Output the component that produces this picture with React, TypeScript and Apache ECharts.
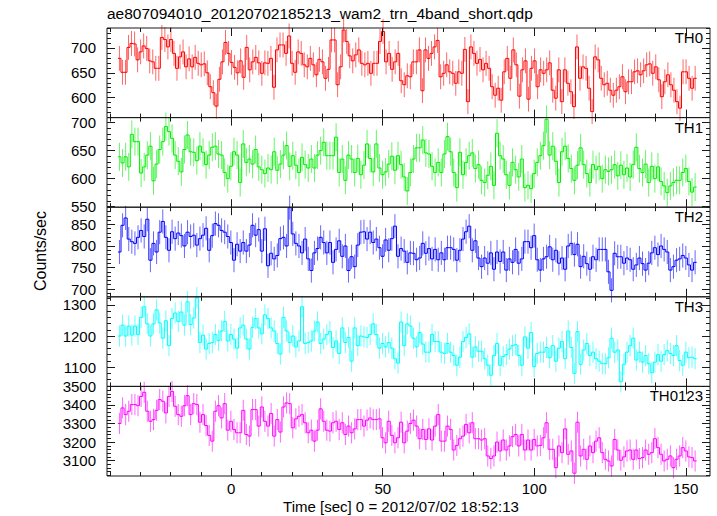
import React, { useEffect, useRef } from "react";
import * as echarts from "echarts";

const TITLE = "ae807094010_20120702185213_wam2_trn_4band_short.qdp";
const X_TITLE = "Time [sec] 0 = 2012/07/02 18:52:13";
const Y_TITLE = "Counts/sec";
const FONT = "Liberation Sans, Arial, Helvetica, sans-serif";

const X_MIN = -41;
const X_MAX = 158;
const X_MAJOR = [0, 50, 100, 150];
const X_MINOR = [-40, -30, -20, -10, 0, 10, 20, 30, 40, 50, 60, 70, 80, 90, 100, 110, 120, 130, 140, 150];
const T_START = -37.4;
const T_END = 153.6;

const PANEL_NAMES = ["TH0", "TH1", "TH2", "TH3", "TH0123"];
const PANEL_COLORS = ["#ff0000", "#00ee00", "#0000ff", "#00ffff", "#ff00ff"];
const Y_RANGES = [[560, 740], [549, 709], [682, 890], [1038, 1326], [3017, 3500]];
const Y_MAJOR = [[600, 650, 700], [550, 600, 650, 700], [700, 750, 800, 850], [1100, 1200, 1300], [3100, 3200, 3300, 3400, 3500]];
const Y_MINOR_STEP = [10, 10, 10, 20, 20];
const ERRORS = [25, 25, 28, 34, 57];

const TH0 = [
  679, 651, 651, 701, 709, 708, 676, 692, 704, 699, 674, 672, 659, 659, 721, 717, 702, 717, 689, 659,
  682, 692, 662, 678, 662, 681, 669, 666, 668, 650, 622, 610, 583, 637, 672, 711, 689, 671, 661, 650,
  674, 641, 701, 656, 672, 681, 670, 649, 670, 669, 679, 621, 696, 706, 706, 689, 724, 669, 651, 692,
  689, 666, 662, 679, 666, 646, 677, 672, 639, 657, 716, 716, 626, 662, 736, 713, 684, 674, 686, 696,
  669, 666, 669, 649, 669, 669, 713, 733, 672, 689, 657, 672, 689, 634, 626, 644, 642, 672, 672, 696,
  614, 696, 679, 689, 702, 715, 642, 649, 666, 652, 649, 629, 652, 649, 697, 592, 702, 689, 669, 677,
  656, 669, 659, 622, 605, 619, 595, 652, 679, 639, 696, 666, 603, 656, 674, 597, 659, 674, 622, 656,
  649, 656, 670, 615, 599, 656, 592, 656, 629, 612, 582, 702, 639, 662, 659, 619, 572, 682, 676, 639,
  626, 629, 615, 605, 615, 622, 642, 612, 632, 632, 652, 654, 646, 654, 666, 668, 649, 662, 636, 602,
  632, 646, 626, 615, 592, 579, 652, 652, 639, 619, 639,
];

const TH1 = [
  639, 628, 639, 621, 679, 666, 666, 610, 621, 642, 658, 596, 626, 652, 666, 693, 684, 672, 642, 631,
  612, 652, 678, 648, 647, 632, 658, 647, 625, 642, 656, 658, 644, 642, 611, 600, 622, 648, 642, 593,
  662, 629, 635, 626, 652, 621, 616, 609, 619, 616, 648, 615, 626, 642, 659, 622, 641, 624, 611, 638,
  625, 619, 635, 619, 642, 650, 665, 641, 641, 641, 674, 611, 635, 597, 642, 635, 611, 636, 607, 624,
  662, 636, 612, 662, 619, 607, 612, 626, 640, 615, 641, 625, 603, 578, 611, 635, 655, 655, 669, 646,
  644, 622, 611, 629, 611, 644, 675, 648, 611, 584, 647, 607, 629, 641, 646, 618, 625, 597, 593, 606,
  622, 588, 681, 641, 635, 607, 588, 629, 616, 603, 635, 584, 588, 582, 609, 629, 641, 659, 706, 642,
  658, 631, 593, 648, 658, 636, 618, 597, 624, 655, 625, 609, 593, 625, 616, 622, 600, 616, 613, 616,
  625, 605, 624, 607, 619, 603, 625, 656, 618, 611, 626, 593, 622, 600, 621, 595, 587, 575, 587, 593,
  597, 597, 611, 618, 595, 576, 585,
];

const TH2 = [
  786, 848, 865, 816, 810, 806, 820, 836, 822, 862, 767, 806, 786, 832, 857, 820, 790, 833, 817, 830,
  824, 800, 832, 822, 825, 802, 817, 825, 841, 790, 824, 852, 848, 836, 832, 822, 808, 767, 804, 788,
  808, 788, 802, 848, 825, 838, 788, 840, 754, 783, 770, 778, 817, 820, 800, 889, 828, 806, 800, 784,
  816, 770, 743, 784, 794, 820, 808, 784, 808, 762, 792, 812, 776, 800, 743, 775, 752, 802, 832, 833,
  816, 832, 808, 816, 796, 776, 814, 790, 817, 846, 776, 794, 788, 762, 784, 783, 768, 772, 806, 783,
  794, 770, 792, 768, 784, 768, 796, 796, 792, 767, 790, 816, 833, 846, 790, 812, 772, 752, 772, 760,
  784, 746, 786, 764, 786, 744, 770, 762, 792, 760, 770, 810, 810, 796, 824, 768, 744, 770, 775, 798,
  768, 790, 760, 772, 746, 800, 806, 780, 804, 752, 776, 759, 746, 775, 768, 792, 792, 792, 740, 697,
  783, 775, 775, 760, 772, 768, 746, 756, 772, 759, 744, 760, 784, 796, 780, 800, 792, 786, 744, 752,
  767, 770, 778, 772, 756, 744, 762,
];

const TH3 = [
  1200, 1235, 1200, 1232, 1203, 1232, 1205, 1260, 1294, 1239, 1200, 1239, 1284, 1242, 1193, 1249, 1169, 1256, 1274, 1247,
  1277, 1235, 1310, 1237, 1258, 1323, 1179, 1203, 1158, 1176, 1179, 1205, 1186, 1216, 1247, 1184, 1205, 1190, 1161, 1226,
  1235, 1190, 1158, 1228, 1256, 1226, 1207, 1268, 1256, 1226, 1216, 1176, 1142, 1260, 1216, 1179, 1200, 1165, 1184, 1294,
  1176, 1179, 1184, 1216, 1245, 1176, 1190, 1205, 1214, 1163, 1184, 1144, 1226, 1179, 1195, 1119, 1226, 1169, 1200, 1197,
  1195, 1205, 1239, 1205, 1161, 1176, 1165, 1179, 1161, 1127, 1113, 1245, 1169, 1239, 1232, 1193, 1165, 1211, 1174, 1148,
  1148, 1205, 1182, 1182, 1148, 1144, 1176, 1148, 1137, 1106, 1132, 1182, 1195, 1207, 1132, 1165, 1151, 1151, 1127, 1106,
  1074, 1137, 1176, 1106, 1134, 1140, 1158, 1169, 1172, 1137, 1106, 1197, 1161, 1211, 1102, 1144, 1148, 1148, 1163, 1130,
  1169, 1119, 1161, 1182, 1127, 1216, 1163, 1080, 1214, 1109, 1155, 1176, 1137, 1148, 1127, 1119, 1111, 1111, 1130, 1193,
  1148, 1155, 1053, 1109, 1148, 1169, 1193, 1123, 1148, 1116, 1137, 1111, 1082, 1116, 1140, 1119, 1140, 1153, 1144, 1137,
  1169, 1121, 1106, 1148, 1130, 1132, 1127,
];

const TH0123 = [
  3300, 3384, 3348, 3366, 3402, 3402, 3396, 3446, 3468, 3366, 3312, 3321, 3371, 3429, 3420, 3357, 3446, 3473, 3393, 3348,
  3339, 3396, 3450, 3348, 3407, 3402, 3307, 3348, 3289, 3236, 3205, 3366, 3396, 3330, 3407, 3264, 3312, 3268, 3250, 3250,
  3371, 3241, 3232, 3375, 3375, 3286, 3389, 3312, 3286, 3354, 3232, 3321, 3254, 3389, 3411, 3407, 3277, 3325, 3339, 3348,
  3304, 3250, 3264, 3205, 3264, 3379, 3312, 3264, 3259, 3304, 3312, 3268, 3304, 3241, 3286, 3250, 3271, 3321, 3321, 3286,
  3318, 3330, 3321, 3321, 3325, 3223, 3196, 3312, 3236, 3196, 3223, 3307, 3196, 3259, 3300, 3318, 3286, 3218, 3268, 3214,
  3271, 3211, 3286, 3348, 3205, 3205, 3286, 3268, 3157, 3182, 3218, 3232, 3295, 3250, 3304, 3218, 3218, 3211, 3218, 3125,
  3111, 3125, 3200, 3152, 3211, 3157, 3179, 3229, 3241, 3179, 3241, 3157, 3211, 3157, 3214, 3179, 3182, 3223, 3304, 3161,
  3161, 3062, 3179, 3143, 3271, 3134, 3152, 3032, 3307, 3125, 3161, 3107, 3179, 3143, 3205, 3223, 3143, 3107, 3098, 3071,
  3214, 3157, 3102, 3120, 3152, 3157, 3107, 3157, 3111, 3116, 3157, 3134, 3143, 3218, 3170, 3134, 3098, 3107, 3125, 3062,
  3107, 3125, 3170, 3152, 3120, 3116, 3098,
];

const PANEL_DATA = [TH0, TH1, TH2, TH3, TH0123];

const W = 717;
const H = 516;
const GRID_LEFT = 107;
const GRID_RIGHT_X = 710;
const PLOT_TOP = 28;
const PLOT_BOTTOM = 476;
const PANEL_H = (PLOT_BOTTOM - PLOT_TOP) / 5;
const FRAME = "#1a1a1a";
const FS = 15;

function range(a: number, b: number, step: number) {
  const out: number[] = [];
  for (let v = a; v <= b + 1e-9; v += step) out.push(Math.round(v * 1000) / 1000);
  return out;
}

const plain = (v: number) => String(v);

function buildOption() {
  const grids: any[] = [];
  const xAxes: any[] = [];
  const yAxes: any[] = [];
  const series: any[] = [];
  const graphics: any[] = [];

  PANEL_NAMES.forEach((name, i) => {
    const top = PLOT_TOP + i * PANEL_H;
    grids.push({
      left: GRID_LEFT,
      width: GRID_RIGHT_X - GRID_LEFT,
      top,
      height: PANEL_H,
      show: true,
      borderColor: FRAME,
      borderWidth: 1,
      backgroundColor: "transparent",
      z: 10,
    });
    const tickStyle = { color: FRAME, width: 1 };
    const xBase = {
      gridIndex: i,
      type: "value",
      min: X_MIN,
      max: X_MAX,
      axisLine: { show: false, onZero: false },
      splitLine: { show: false },
      z: 11,
    };
    const isLast = i === PANEL_NAMES.length - 1;
    xAxes.push({
      ...xBase,
      position: "bottom",
      axisTick: { show: true, inside: true, length: 8, customValues: X_MAJOR, lineStyle: tickStyle },
      axisLabel: {
        show: isLast,
        customValues: X_MAJOR,
        formatter: plain,
        margin: 5,
        color: "#000",
        fontSize: FS,
        fontFamily: FONT,
      },
    });
    xAxes.push({
      ...xBase,
      position: "bottom",
      axisTick: { show: true, inside: true, length: 4, customValues: X_MINOR, lineStyle: tickStyle },
      axisLabel: { show: false },
    });
    xAxes.push({
      ...xBase,
      position: "top",
      axisTick: { show: true, inside: true, length: 8, customValues: X_MAJOR, lineStyle: tickStyle },
      axisLabel: { show: false },
    });
    xAxes.push({
      ...xBase,
      position: "top",
      axisTick: { show: true, inside: true, length: 4, customValues: X_MINOR, lineStyle: tickStyle },
      axisLabel: { show: false },
    });

    const [ymin, ymax] = Y_RANGES[i];
    const step = Y_MINOR_STEP[i];
    const yMinor = range(Math.ceil(ymin / step) * step, ymax, step);
    const yBase = {
      gridIndex: i,
      type: "value",
      min: ymin,
      max: ymax,
      axisLine: { show: false, onZero: false },
      splitLine: { show: false },
      z: 11,
    };
    yAxes.push({
      ...yBase,
      position: "left",
      axisTick: { show: true, inside: true, length: 8, customValues: Y_MAJOR[i], lineStyle: tickStyle },
      axisLabel: {
        show: true,
        customValues: Y_MAJOR[i],
        formatter: plain,
        margin: 11,
        color: "#000",
        fontSize: FS,
        fontFamily: FONT,
      },
    });
    yAxes.push({
      ...yBase,
      position: "left",
      axisTick: { show: true, inside: true, length: 4, customValues: yMinor, lineStyle: tickStyle },
      axisLabel: { show: false },
    });
    yAxes.push({
      ...yBase,
      position: "right",
      axisTick: { show: true, inside: true, length: 8, customValues: Y_MAJOR[i], lineStyle: tickStyle },
      axisLabel: { show: false },
    });
    yAxes.push({
      ...yBase,
      position: "right",
      axisTick: { show: true, inside: true, length: 4, customValues: yMinor, lineStyle: tickStyle },
      axisLabel: { show: false },
    });

    const vals = PANEL_DATA[i];
    const bw = (T_END - T_START) / vals.length;
    const color = PANEL_COLORS[i];
    const err = ERRORS[i];
    series.push({
      type: "custom",
      name: name,
      xAxisIndex: i * 4,
      yAxisIndex: i * 4,
      clip: false,
      silent: true,
      z: 5,
      data: vals.map((v, k) => [T_START + (k + 0.5) * bw, v]),
      renderItem: (params: any, api: any) => {
        const k = params.dataIndex;
        const t = api.value(0);
        const v = api.value(1);
        const pL = api.coord([t - bw / 2, v]);
        const pR = api.coord([t + bw / 2, v]);
        const pts: number[][] = [];
        if (k > 0) pts.push(api.coord([t - bw / 2, vals[k - 1]]));
        pts.push(pL, pR);
        const eT = api.coord([t, v + err]);
        const eB = api.coord([t, v - err]);
        return {
          type: "group",
          children: [
            {
              type: "line",
              shape: { x1: eT[0], y1: eT[1], x2: eB[0], y2: eB[1] },
              style: { stroke: color, lineWidth: 1, opacity: 0.6 },
            },
            {
              type: "polyline",
              shape: { points: pts },
              style: { stroke: color, lineWidth: 1, fill: null },
            },
          ],
        };
      },
    });

    graphics.push({
      type: "text",
      right: W - 703,
      top: top + 2,
      style: { text: name, fontSize: FS, fontFamily: FONT, fill: "#000" },
      z: 20,
    });
  });

  graphics.push({
    type: "text",
    left: GRID_LEFT,
    top: 5,
    style: { text: TITLE, fontSize: 15.5, fontFamily: FONT, fill: "#000" },
  });
  graphics.push({
    type: "text",
    x: 401,
    y: 506,
    style: { text: X_TITLE, fontSize: FS, fontFamily: FONT, fill: "#000", align: "center", verticalAlign: "middle" },
  });
  graphics.push({
    type: "text",
    x: 40,
    y: 251,
    rotation: Math.PI / 2,
    style: { text: Y_TITLE, fontSize: 16, fontFamily: FONT, fill: "#000", align: "center", verticalAlign: "middle" },
  });

  return {
    animation: false,
    backgroundColor: "#ffffff",
    grid: grids,
    xAxis: xAxes,
    yAxis: yAxes,
    series,
    graphic: graphics,
  };
}

export default function App() {
  const ref = useRef<HTMLDivElement>(null);
  useEffect(() => {
    if (!ref.current) return;
    const chart = echarts.init(ref.current, undefined, { renderer: "svg", width: W, height: H });
    chart.setOption(buildOption() as any);
    return () => chart.dispose();
  }, []);
  return (
    <div
      ref={ref}
      style={{ width: W, height: H, position: "absolute", left: 0, top: 0 }}
    />
  );
}
